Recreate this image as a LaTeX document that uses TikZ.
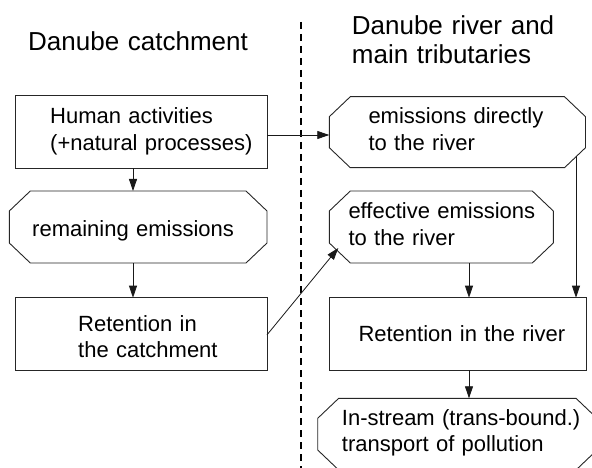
\documentclass[tikz,border=0pt]{standalone}
\usepackage{fontspec}
\setmainfont{Liberation Sans}
\usetikzlibrary{arrows.meta,calc}
\newcommand{\octpath}[1]{%
 \draw[octline] ([xshift=21pt]#1.north west) -- ([xshift=-21pt]#1.north east) -- ([yshift=-20pt]#1.north east) -- ([yshift=20pt]#1.south east) -- ([xshift=-21pt]#1.south east) -- ([xshift=21pt]#1.south west) -- ([yshift=20pt]#1.south west) -- ([yshift=-20pt]#1.north west) -- cycle;}
\begin{document}
\begin{tikzpicture}[x=1pt,y=-1pt,
  shapebox/.style={draw=black!85, line width=0.9pt, inner sep=0pt, outer sep=0pt},
  octbox/.style={inner sep=0pt, outer sep=0pt},
  octline/.style={draw=black!85, line width=0.9pt, line join=miter},
  boxtext/.style={anchor=base west, inner sep=0pt, align=left, text width=250pt, font=\fontsize{22}{26.8}\selectfont},
  heading/.style={anchor=base west, inner sep=0pt, align=left, text width=250pt, font=\fontsize{26}{28.5}\selectfont},
  arr/.style={draw=black!90, line width=0.8pt, -{Triangle[length=12pt,width=8pt]}},
  divider/.style={draw=black, line width=2pt, dash pattern=on 7pt off 5pt}
]
\useasboundingbox (0,0) rectangle (592,468);
\clip (0,0) rectangle (592,468);

% left column
\node[shapebox, minimum width=251.7pt, minimum height=72.6pt] (hN) at (141.15,132) {};
\node[octbox, minimum width=257.7pt, minimum height=72pt] (rN) at (138.15,227) {};
\octpath{rN}
\node[shapebox, minimum width=251.7pt, minimum height=72.3pt] (cN) at (141.15,333.85) {};

% right column
\node[octbox, minimum width=256.2pt, minimum height=71pt] (dN) at (457.4,132.2) {};
\octpath{dN}
\node[octbox, minimum width=224pt, minimum height=72pt] (eN) at (441.3,227) {};
\octpath{eN}
\node[shapebox, minimum width=257.4pt, minimum height=72.3pt] (rrN) at (458,333.85) {};
\node[octbox, minimum width=279.3pt, minimum height=71.7pt] (iN) at (457.35,434.15) {};
\octpath{iN}

% texts
\node[heading] (t1) at (28,51) {Danube catchment};
\node[heading] (t2) at (351.7,35) {Danube river and\\main tributaries};
\node[boxtext] (hT) at (50,123.3) {Human activities\\(+natural processes)};
\node[boxtext] (rT) at (32,236.7) {remaining emissions};
\node[boxtext] (cT) at (78,331) {Retention in\\the catchment};
\node[boxtext] (dT) at (368.3,123.3) {emissions directly\\to the river};
\node[boxtext] (eT) at (348.3,218.3) {effective emissions\\to the river};
\node[boxtext] (rrT) at (358.3,341.7) {Retention in the river};
\node[boxtext] (iT) at (341.7,425) {In-stream (trans-bound.)\\transport of pollution};

% divider
\coordinate (divTop) at (301,22);
\coordinate (divBot) at (301,470);
\draw[divider] (divTop) -- (divBot);

% connectors
\coordinate (xL) at (133,0);
\coordinate (xR) at (469,0);
\draw[arr] (xL |- hN.south) -- (xL |- rN.north);
\draw[arr] (xL |- rN.south) -- (xL |- cN.north);
\coordinate (hOut) at ([yshift=-3pt]hN.east);
\draw[arr] (hOut) -- (hOut -| dN.west);
\coordinate (cOut) at ([yshift=-1pt]cN.east);
\coordinate (eIn) at ([shift={(9pt,15pt)}]eN.south west);
\draw[arr] (cOut) -- (eIn);
\coordinate (dOut) at ([shift={(-9.5pt,11.3pt)}]dN.south east);
\draw[arr] (dOut) -- (dOut |- rrN.north);
\draw[arr] (xR |- eN.south) -- (xR |- rrN.north);
\draw[arr] (xR |- rrN.south) -- (xR |- iN.north);
\end{tikzpicture}
\end{document}
